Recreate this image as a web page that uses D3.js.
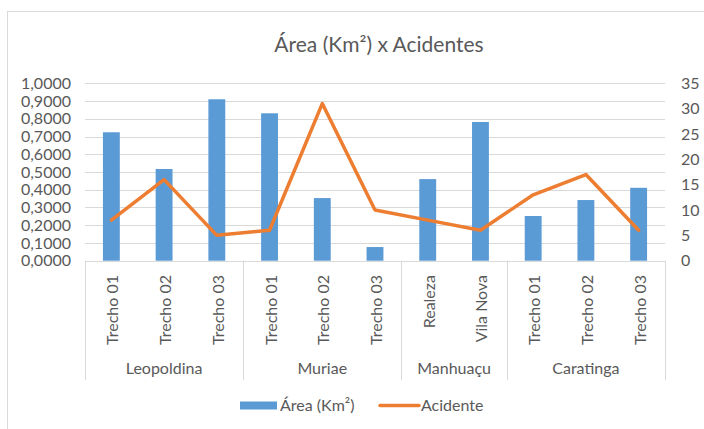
<!DOCTYPE html>
<html>
<head>
<meta charset="utf-8">
<script src="https://cdnjs.cloudflare.com/ajax/libs/d3/7.8.5/d3.min.js"></script>
<style>
  body { margin: 0; background: #fff; }
  svg text { font-family: Lato, "Open Sans", sans-serif; fill: #595959; }
</style>
</head>
<body>
<svg id="SvgContainer"></svg>
<script>
// data
var groups = ["Leopoldina", "Muriae", "Manhuaçu", "Caratinga"];
var groupOf = ["Leopoldina", "Leopoldina", "Leopoldina", "Muriae", "Muriae", "Muriae",
               "Manhuaçu", "Manhuaçu", "Caratinga", "Caratinga", "Caratinga"];
var trechos = ["Trecho 01", "Trecho 02", "Trecho 03", "Trecho 01", "Trecho 02", "Trecho 03",
               "Realeza", "Vila Nova", "Trecho 01", "Trecho 02", "Trecho 03"];
var area = [0.724, 0.517, 0.910, 0.831, 0.353, 0.077, 0.460, 0.782, 0.252, 0.342, 0.411];
var acidentes = [8, 16, 5, 6, 31, 10, 8, 6, 13, 17, 6];
var leftTicks = [0, 0.1, 0.2, 0.3, 0.4, 0.5, 0.6, 0.7, 0.8, 0.9, 1.0];
var rightTicks = [0, 5, 10, 15, 20, 25, 30, 35];

var width = 704;
var height = 429;
var plotLeft = 85;
var plotRight = 665;
var plotTop = 83.3;
var plotBottom = 260.7;
var labelSize = "16px";

var blue = "#5b9bd5";
var orange = "#ed7d31";
var gridColor = "#d9d9d9";

var svg = d3.select("svg")
    .attr("width", width)
    .attr("height", height);

// chart border (only top and left are inside the picture)
svg.append("rect")
    .attr("x", 7.5).attr("y", 11.5)
    .attr("width", 720).attr("height", 440)
    .attr("fill", "none")
    .attr("stroke", gridColor)
    .attr("stroke-width", 1);

svg.append("text")
    .attr("x", 379).attr("y", 52)
    .attr("text-anchor", "middle")
    .style("font-size", "21px")
    .text("Área (Km²) x Acidentes");

var keys = d3.range(trechos.length);

var x = d3.scaleBand()
    .domain(keys)
    .range([plotLeft, plotRight])
    .paddingInner(0.68)
    .paddingOuter(0.34);

var yLeft = d3.scaleLinear().domain([0, 1]).range([plotBottom, plotTop]);
var yRight = d3.scaleLinear().domain([0, 35]).range([plotBottom, plotTop]);

// gridlines
svg.append("g")
    .selectAll("line")
    .data(leftTicks.slice(1))
    .enter()
    .append("line")
    .attr("x1", plotLeft).attr("x2", plotRight)
    .attr("y1", function (d) { return Math.round(yLeft(d)) + 0.5; })
    .attr("y2", function (d) { return Math.round(yLeft(d)) + 0.5; })
    .attr("stroke", gridColor)
    .attr("stroke-width", 1);

// left axis labels
svg.append("g")
    .selectAll("text")
    .data(leftTicks)
    .enter()
    .append("text")
    .attr("x", 71)
    .attr("y", function (d) { return yLeft(d); })
    .attr("dy", "0.35em")
    .attr("text-anchor", "end")
    .style("font-size", labelSize)
    .text(function (d) { return d.toFixed(4).replace(".", ","); });

// right axis labels
svg.append("g")
    .selectAll("text")
    .data(rightTicks)
    .enter()
    .append("text")
    .attr("x", 681)
    .attr("y", function (d) { return yRight(d); })
    .attr("dy", "0.35em")
    .attr("text-anchor", "start")
    .style("font-size", labelSize)
    .text(function (d) { return d; });

// bars
svg.append("g")
    .selectAll("rect")
    .data(area)
    .enter()
    .append("rect")
    .attr("x", function (d, i) { return x(i); })
    .attr("y", function (d) { return yLeft(d); })
    .attr("width", x.bandwidth())
    .attr("height", function (d) { return plotBottom - yLeft(d); })
    .attr("fill", blue);

// category axis line
svg.append("line")
    .attr("x1", plotLeft).attr("x2", plotRight)
    .attr("y1", Math.round(plotBottom) + 0.5).attr("y2", Math.round(plotBottom) + 0.5)
    .attr("stroke", gridColor)
    .attr("stroke-width", 1);

// group separators
var step = x.step();
var bounds = [0];
for (var i = 1; i < groupOf.length; i++) {
    if (groupOf[i] !== groupOf[i - 1]) bounds.push(i);
}
bounds.push(groupOf.length);

svg.append("g")
    .selectAll("line")
    .data(bounds)
    .enter()
    .append("line")
    .attr("x1", function (d) { return Math.round(plotLeft + d * step) + 0.5; })
    .attr("x2", function (d) { return Math.round(plotLeft + d * step) + 0.5; })
    .attr("y1", plotBottom)
    .attr("y2", 380)
    .attr("stroke", gridColor)
    .attr("stroke-width", 1);

// inner category labels, rotated
svg.append("g")
    .selectAll("text")
    .data(trechos)
    .enter()
    .append("text")
    .attr("transform", function (d, i) {
        return "translate(" + (x(i) + x.bandwidth() / 2 + 7) + "," + 275 + ") rotate(-90)";
    })
    .attr("text-anchor", "end")
    .style("font-size", labelSize)
    .text(function (d) { return d; });

// group labels
svg.append("g")
    .selectAll("text")
    .data(groups)
    .enter()
    .append("text")
    .attr("x", function (d) {
        var s = groupOf.indexOf(d);
        var e = groupOf.lastIndexOf(d) + 1;
        return plotLeft + (s + e) / 2 * step;
    })
    .attr("y", 374)
    .attr("text-anchor", "middle")
    .style("font-size", labelSize)
    .text(function (d) { return d; });

// line series
var line = d3.line()
    .x(function (d, i) { return x(i) + x.bandwidth() / 2; })
    .y(function (d) { return yRight(d); });

svg.append("path")
    .datum(acidentes)
    .attr("d", line)
    .attr("fill", "none")
    .attr("stroke", orange)
    .attr("stroke-width", 3.5)
    .attr("stroke-linejoin", "round")
    .attr("stroke-linecap", "round");

// legend
var legend = svg.append("g");
legend.append("rect")
    .attr("x", 240).attr("y", 401.5)
    .attr("width", 37).attr("height", 8)
    .attr("fill", blue);
legend.append("text")
    .attr("x", 280).attr("y", 411)
    .style("font-size", labelSize)
    .text("Área (Km²)");
legend.append("line")
    .attr("x1", 380).attr("x2", 419)
    .attr("y1", 405.5).attr("y2", 405.5)
    .attr("stroke", orange)
    .attr("stroke-width", 3.5)
    .attr("stroke-linecap", "round");
legend.append("text")
    .attr("x", 421).attr("y", 411)
    .style("font-size", labelSize)
    .text("Acidente");
</script>
</body>
</html>
